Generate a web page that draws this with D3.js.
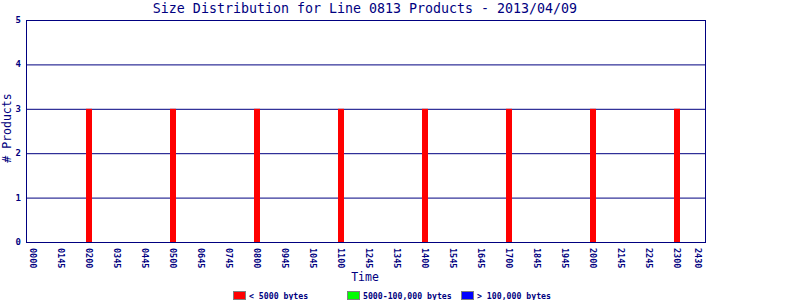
<!DOCTYPE html>
<html>
<head>
<meta charset="utf-8">
<script src="https://cdn.jsdelivr.net/npm/d3@7"></script>
<style>
  body { margin: 0; background: #fff; }
  svg { display: block; }
  text { font-family: "DejaVu Sans Mono", monospace; fill: #000080; }
</style>
</head>
<body>
<svg width="800" height="300"></svg>
<script>
// hourly slots (hour of day) and product counts per size class
const hours = [2, 5, 8, 11, 14, 17, 20, 23];
const smallCounts = [3, 3, 3, 3, 3, 3, 3, 3];
const mediumCounts = [0, 0, 0, 0, 0, 0, 0, 0];
const largeCounts = [0, 0, 0, 0, 0, 0, 0, 0];

const tickHours = [0, 1, 2, 3, 4, 5, 6, 7, 8, 9, 10, 11, 12, 13, 14, 15, 16, 17, 18, 19, 20, 21, 22, 23, 23.75];
const tickLabels = ["0000", "0145", "0200", "0345", "0445", "0500", "0645", "0745", "0800", "0945", "1045", "1100",
  "1245", "1345", "1400", "1545", "1645", "1700", "1845", "1945", "2000", "2145", "2245", "2300", "2430"];
const yTicks = [0, 1, 2, 3, 4, 5];

const seriesNames = ["< 5000 bytes", "5000-100,000 bytes", "> 100,000 bytes"];
const seriesColors = ["#ff0000", "#00ff00", "#0000ff"];

const navy = "#000080";
const margin = { top: 20, right: 95, bottom: 58, left: 26 };
const width = 800, height = 300;

const svg = d3.select("svg");

const x = d3.scaleLinear().domain([-0.25, 24]).range([margin.left, width - margin.right]);
const y = d3.scaleLinear().domain([0, 5]).range([height - margin.bottom, margin.top]);

// gridlines
svg.append("g")
  .selectAll("line")
  .data(yTicks.slice(1, -1))
  .enter().append("line")
  .attr("x1", x.range()[0]).attr("x2", x.range()[1])
  .attr("y1", d => y(d) + 0.5).attr("y2", d => y(d) + 0.5)
  .attr("stroke", navy).attr("stroke-width", 1);

// stacked bars
const rows = hours.map((h, i) => ({ hour: h, small: smallCounts[i], medium: mediumCounts[i], large: largeCounts[i] }));
const stack = d3.stack().keys(["small", "medium", "large"])(rows);
const barW = 6;

svg.append("g")
  .selectAll("g")
  .data(stack)
  .enter().append("g")
  .attr("fill", (d, i) => seriesColors[i])
  .selectAll("rect")
  .data(d => d.filter(p => p[1] > p[0]))
  .enter().append("rect")
  .attr("x", d => Math.round(x(d.data.hour) - barW / 2))
  .attr("width", barW)
  .attr("y", d => y(d[1]))
  .attr("height", d => y(d[0]) - y(d[1]));

// frame
svg.append("rect")
  .attr("x", x.range()[0] + 0.5).attr("y", y(5) + 0.5)
  .attr("width", x.range()[1] - x.range()[0])
  .attr("height", y(0) - y(5))
  .attr("fill", "none").attr("stroke", navy).attr("stroke-width", 1);

// y tick labels
svg.append("g")
  .selectAll("text")
  .data(yTicks)
  .enter().append("text")
  .attr("x", margin.left - 5)
  .attr("y", d => y(d) + 3)
  .attr("text-anchor", "end")
  .style("font-size", "9px")
  .style("font-weight", "bold")
  .text(d => d);

// x tick labels, rotated
svg.append("g")
  .selectAll("text")
  .data(tickHours)
  .enter().append("text")
  .attr("transform", d => "translate(" + (x(d) - 3) + "," + (y(0) + 6) + ") rotate(90)")
  .attr("text-anchor", "start")
  .style("font-size", "8.5px")
  .style("font-weight", "bold")
  .text((d, i) => tickLabels[i]);

// title
svg.append("text")
  .attr("x", 365).attr("y", 13)
  .attr("text-anchor", "middle")
  .style("font-size", "13.3px")
  .text("Size Distribution for Line 0813 Products - 2013/04/09");

// axis titles
svg.append("text")
  .attr("x", 365).attr("y", 281)
  .attr("text-anchor", "middle")
  .style("font-size", "11.5px")
  .text("Time");

svg.append("text")
  .attr("transform", "translate(11," + 128 + ") rotate(-90)")
  .attr("text-anchor", "middle")
  .style("font-size", "11.5px")
  .text("# Products");

// legend
const legendX = [233, 347, 461];
const legend = svg.append("g")
  .selectAll("g")
  .data(seriesNames)
  .enter().append("g")
  .attr("transform", (d, i) => "translate(" + legendX[i] + ",291)");

legend.append("rect")
  .attr("x", 0.5).attr("y", 0.5)
  .attr("width", 12).attr("height", 8)
  .attr("fill", (d, i) => seriesColors[i])
  .attr("stroke", "#808080");

legend.append("text")
  .attr("x", 16).attr("y", 8)
  .style("font-size", "8.2px")
  .style("font-weight", "bold")
  .text(d => d);
</script>
</body>
</html>
